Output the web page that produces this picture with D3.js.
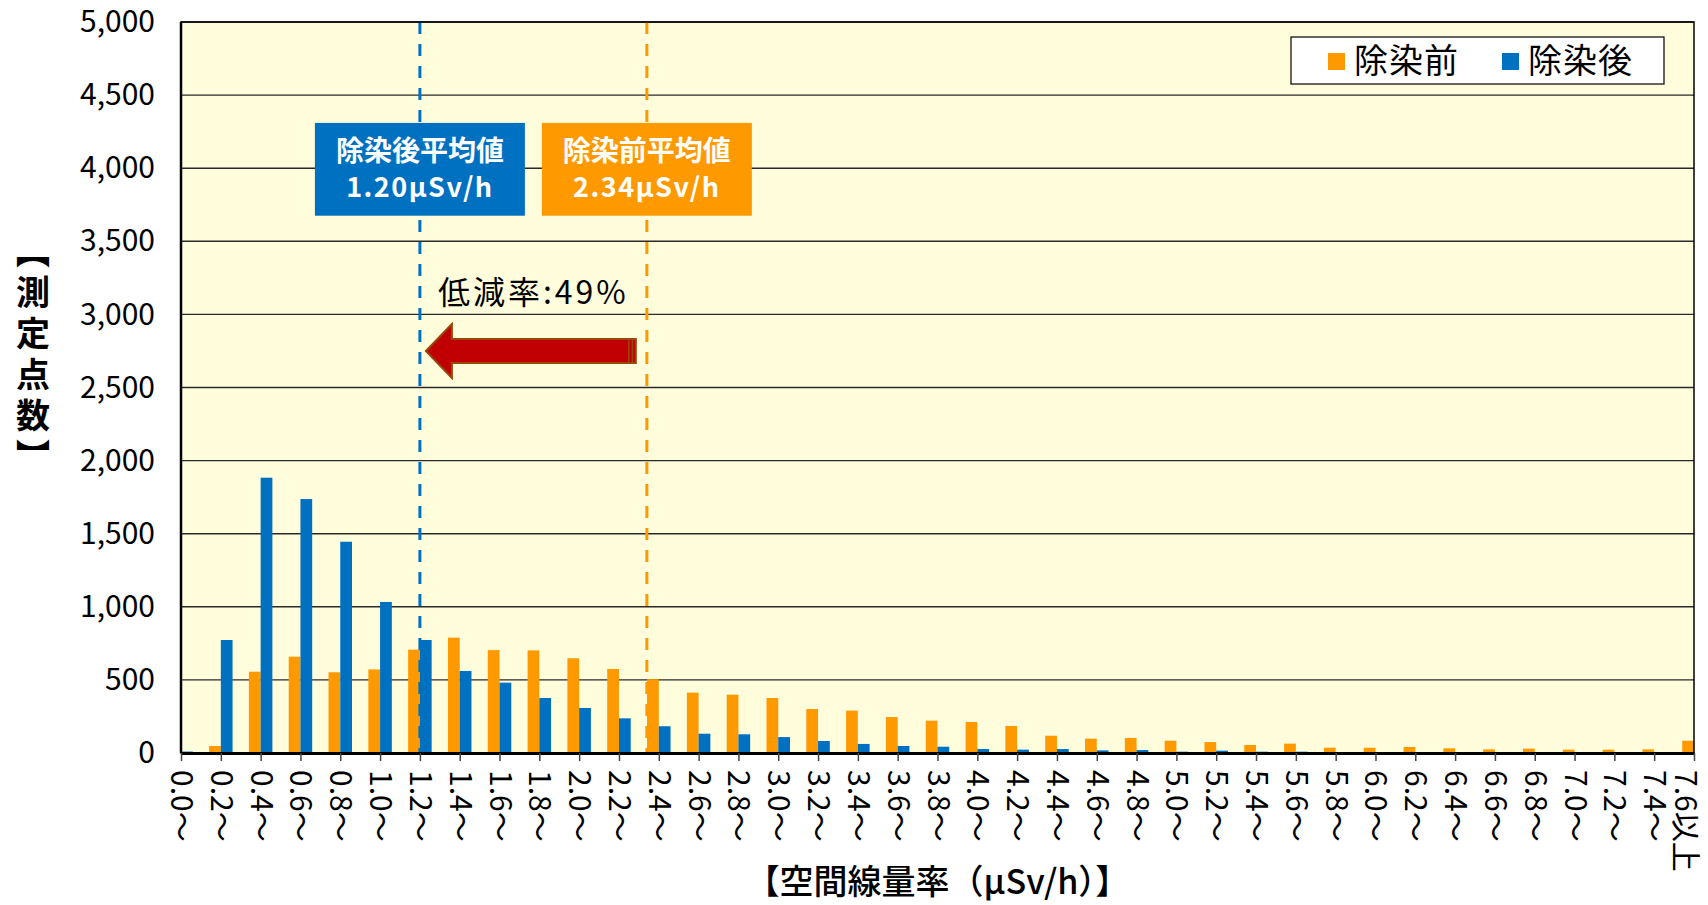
<!DOCTYPE html>
<html lang="ja">
<head>
<meta charset="utf-8">
<script src="https://cdn.jsdelivr.net/npm/d3@7"></script>
<style>
  html, body { margin: 0; padding: 0; background: #fff; }
  svg { display: block; font-family: "Noto Sans CJK JP", "Noto Sans", sans-serif; }
</style>
</head>
<body>
<svg width="1708" height="905"></svg>
<script>
var width = 1708;
var height = 905;
var plotLeft = 181, plotRight = 1694, plotTop = 22, plotBottom = 753;

// 空間線量率の区分 (μSv/h)
var categories = ['0.0～', '0.2～', '0.4～', '0.6～', '0.8～', '1.0～', '1.2～', '1.4～', '1.6～', '1.8～',
  '2.0～', '2.2～', '2.4～', '2.6～', '2.8～', '3.0～', '3.2～', '3.4～', '3.6～', '3.8～',
  '4.0～', '4.2～', '4.4～', '4.6～', '4.8～', '5.0～', '5.2～', '5.4～', '5.6～', '5.8～',
  '6.0～', '6.2～', '6.4～', '6.6～', '6.8～', '7.0～', '7.2～', '7.4～', '7.6以上'];

// 除染前 / 除染後 の測定点数
var before = [0, 48, 556, 659, 552, 572, 707, 789, 704, 702,
  648, 575, 505, 413, 399, 376, 301, 290, 246, 221,
  212, 185, 118, 98, 103, 84, 75, 55, 64, 36,
  36, 41, 32, 25, 30, 23, 23, 25, 84];
var after = [10, 773, 1883, 1737, 1445, 1033, 773, 561, 481, 376,
  308, 237, 183, 132, 128, 109, 82, 62, 48, 43,
  27, 23, 27, 18, 20, 9, 16, 9, 9, 5,
  5, 0, 0, 0, 0, 0, 0, 0, 0];

var yTicks = [0, 500, 1000, 1500, 2000, 2500, 3000, 3500, 4000, 4500, 5000];
var seriesNames = ['除染前', '除染後'];
var seriesColors = ['#ff9900', '#0070c0'];

var meanBefore = 2.34;
var meanAfter = 1.20;
var reductionRate = 49;

var svg = d3.select('svg');

var xScale = d3.scalePoint()
  .domain(categories)
  .range([plotLeft, plotRight]);

var rateScale = d3.scaleLinear()
  .domain([0, 7.6])
  .range([plotLeft, plotRight]);

var yScale = d3.scaleLinear()
  .domain([0, 5000])
  .range([plotBottom, plotTop]);

var barWidth = xScale.step() * 0.295;

// plot background
svg.append('rect')
  .attr('x', plotLeft).attr('y', plotTop)
  .attr('width', plotRight - plotLeft).attr('height', plotBottom - plotTop)
  .attr('fill', '#fffddc');

svg.append('clipPath').attr('id', 'plotClip')
  .append('rect')
  .attr('x', plotLeft).attr('y', plotTop)
  .attr('width', plotRight - plotLeft).attr('height', plotBottom - plotTop);

// gridlines
svg.append('g').selectAll('line').data(yTicks.filter(function(d) { return d > 0; })).enter()
  .append('line')
  .attr('x1', plotLeft).attr('x2', plotRight)
  .attr('y1', function(d) { return yScale(d); })
  .attr('y2', function(d) { return yScale(d); })
  .attr('stroke', '#2a2a2a')
  .attr('stroke-width', 1.4);

// bars
var barsGroup = svg.append('g').attr('clip-path', 'url(#plotClip)');
barsGroup.selectAll('rect.before').data(categories).enter()
  .append('rect')
  .attr('class', 'before')
  .attr('x', function(d) { return xScale(d) - barWidth; })
  .attr('y', function(d, i) { return yScale(before[i]); })
  .attr('width', barWidth)
  .attr('height', function(d, i) { return plotBottom - yScale(before[i]); })
  .attr('fill', seriesColors[0]);
barsGroup.selectAll('rect.after').data(categories).enter()
  .append('rect')
  .attr('class', 'after')
  .attr('x', function(d) { return xScale(d); })
  .attr('y', function(d, i) { return yScale(after[i]); })
  .attr('width', barWidth)
  .attr('height', function(d, i) { return plotBottom - yScale(after[i]); })
  .attr('fill', seriesColors[1]);

// mean lines
var means = [
  { value: meanAfter, color: seriesColors[1], title: '除染後平均値' },
  { value: meanBefore, color: seriesColors[0], title: '除染前平均値' }
];
svg.append('g').selectAll('line').data(means).enter()
  .append('line')
  .attr('x1', function(d) { return rateScale(d.value); })
  .attr('x2', function(d) { return rateScale(d.value); })
  .attr('y1', plotTop).attr('y2', plotBottom)
  .attr('stroke', function(d) { return d.color; })
  .attr('stroke-width', 3)
  .attr('stroke-dasharray', '12,10');

// mean labels
var boxW = 210;
var boxes = svg.append('g').selectAll('g').data(means).enter().append('g');
boxes.append('rect')
  .attr('x', function(d) { return rateScale(d.value) - boxW / 2; })
  .attr('y', yScale(4310))
  .attr('width', boxW)
  .attr('height', yScale(3675) - yScale(4310))
  .attr('fill', function(d) { return d.color; });
boxes.append('text')
  .attr('x', function(d) { return rateScale(d.value); })
  .attr('y', yScale(4310) + 28)
  .attr('dy', '0.35em')
  .attr('text-anchor', 'middle')
  .attr('font-size', '28px')
  .attr('font-weight', 'bold')
  .attr('fill', '#fff')
  .text(function(d) { return d.title; });
boxes.append('text')
  .attr('x', function(d) { return rateScale(d.value); })
  .attr('y', yScale(4310) + 65)
  .attr('dy', '0.35em')
  .attr('text-anchor', 'middle')
  .attr('font-size', '27px')
  .attr('font-weight', 'bold')
  .attr('letter-spacing', '1.5px')
  .attr('fill', '#fff')
  .text(function(d) { return d.value.toFixed(2) + 'μSv/h'; });

// reduction text and arrow
var midX = (rateScale(meanAfter) + rateScale(meanBefore)) / 2;
svg.append('text')
  .attr('x', midX)
  .attr('y', yScale(3150))
  .attr('dy', '0.35em')
  .attr('text-anchor', 'middle')
  .attr('font-size', '32px')
  .attr('letter-spacing', '3px')
  .attr('fill', '#000')
  .text('低減率:' + reductionRate + '%');

var tipX = rateScale(meanAfter) + 6;
var tailX = rateScale(meanBefore) - 11;
var cy = yScale(2750);
var headLen = 26, shaftH = 12, headH = 27;
var arrowPts = [
  [tipX, cy], [tipX + headLen, cy - headH], [tipX + headLen, cy - shaftH],
  [tailX, cy - shaftH], [tailX, cy + shaftH], [tipX + headLen, cy + shaftH],
  [tipX + headLen, cy + headH]
];
svg.append('polygon')
  .attr('points', arrowPts.map(function(p) { return p.join(','); }).join(' '))
  .attr('fill', '#c00000')
  .attr('stroke', '#984807')
  .attr('stroke-width', 2)
  .attr('stroke-linejoin', 'miter');
svg.append('g').selectAll('line').data([7, 3.5]).enter()
  .append('line')
  .attr('x1', function(d) { return tailX - d; })
  .attr('x2', function(d) { return tailX - d; })
  .attr('y1', cy - shaftH).attr('y2', cy + shaftH)
  .attr('stroke', '#984807')
  .attr('stroke-width', 1.5);

// plot frame
svg.append('rect')
  .attr('x', plotLeft).attr('y', plotTop)
  .attr('width', plotRight - plotLeft).attr('height', plotBottom - plotTop)
  .attr('fill', 'none')
  .attr('stroke', '#000')
  .attr('stroke-width', 1.5);
svg.append('line')
  .attr('x1', plotLeft).attr('x2', plotLeft)
  .attr('y1', plotTop).attr('y2', plotBottom)
  .attr('stroke', '#000').attr('stroke-width', 2.5);

// y axis
var yAxis = d3.axisLeft(yScale).tickValues(yTicks).tickSize(0).tickPadding(26).tickFormat(d3.format(','));
var yAxisG = svg.append('g').attr('transform', 'translate(' + plotLeft + ',0)').call(yAxis);
yAxisG.select('.domain').remove();
yAxisG.selectAll('text')
  .attr('font-family', '"Noto Sans CJK JP", sans-serif')
  .attr('font-size', '30px')
  .attr('fill', '#000');

// x axis
var xAxis = d3.axisBottom(xScale).tickSize(8).tickSizeOuter(0);
var xAxisG = svg.append('g').attr('transform', 'translate(0,' + plotBottom + ')').call(xAxis);
xAxisG.select('.domain').attr('stroke', '#000').attr('stroke-width', 3);
xAxisG.selectAll('.tick line').attr('stroke', '#444').attr('stroke-width', 1.5);
xAxisG.selectAll('text')
  .attr('font-family', '"Noto Sans CJK JP", sans-serif')
  .attr('font-size', '30px')
  .attr('fill', '#000')
  .attr('transform', 'rotate(90)')
  .attr('x', 17).attr('y', 0)
  .attr('dy', function(d, i) { return i === categories.length - 1 ? '0.64em' : '0.35em'; })
  .attr('text-anchor', 'start');

// axis titles
svg.append('text')
  .attr('x', (plotLeft + plotRight) / 2)
  .attr('y', 894)
  .attr('text-anchor', 'middle')
  .attr('font-size', '34px')
  .attr('font-weight', 500)
  .attr('fill', '#000')
  .text('【空間線量率（μSv/h）】');

svg.append('text')
  .attr('x', 33)
  .attr('y', 357)
  .attr('text-anchor', 'middle')
  .attr('font-size', '34px')
  .attr('font-weight', 'bold')
  .attr('letter-spacing', '7px')
  .attr('fill', '#000')
  .style('writing-mode', 'vertical-rl')
  .text('【測定点数】');

// legend
var legend = svg.append('g').attr('transform', 'translate(' + (plotRight - 403) + ',' + (plotTop + 15) + ')');
legend.append('rect')
  .attr('x', 0).attr('y', 0)
  .attr('width', 373).attr('height', 47)
  .attr('fill', '#fff')
  .attr('stroke', '#000')
  .attr('stroke-width', 1.2);
var legendItems = legend.selectAll('g').data(seriesNames).enter()
  .append('g')
  .attr('transform', function(d, i) { return 'translate(' + (37 + i * 174) + ',0)'; });
legendItems.append('rect')
  .attr('x', 0).attr('y', 16)
  .attr('width', 17).attr('height', 17)
  .attr('fill', function(d, i) { return seriesColors[i]; });
legendItems.append('text')
  .attr('x', 26).attr('y', 24)
  .attr('dy', '0.35em')
  .attr('font-size', '34px')
  .attr('letter-spacing', '1px')
  .attr('fill', '#000')
  .text(function(d) { return d; });
</script>
</body>
</html>
